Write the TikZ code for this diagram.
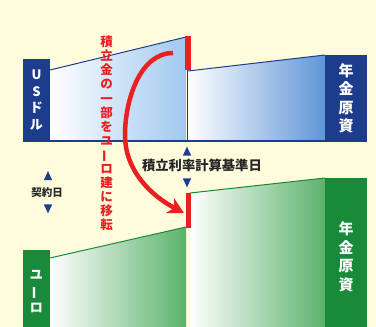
\documentclass[tikz,border=0pt]{standalone}
\usepackage{fontspec}
\setmainfont{Noto Sans CJK JP}
\usetikzlibrary{shapes}
\usetikzlibrary{arrows.meta}
\definecolor{bgcream}{RGB}{255,252,222}
\definecolor{usnavy}{RGB}{30,60,140}
\definecolor{uslight}{RGB}{160,200,238}
\definecolor{usmid}{RGB}{95,150,215}
\definecolor{eudark}{RGB}{24,138,58}
\definecolor{eumid}{RGB}{92,178,108}
\definecolor{redarr}{RGB}{232,32,32}
\tikzset{
	box_base/.style = {
		align=center,
		inner sep=0pt,
		text centered,
		white,
		font=\fontsize{13}{16.5}\selectfont\bfseries
	},
	box_us/.style = {
		box_base,
		rectangle,
		fill=usnavy
	},
	box_eu/.style = {
		box_base,
		rectangle,
		fill=eudark
	},
	box_total/.style = {
		font=\fontsize{15}{18.5}\selectfont\bfseries
	},
	day_label/.style = {
		inner sep=0pt,
		text=black!85
	},
	tri_up/.style = {
		isosceles triangle,
		shape border rotate=90,
		isosceles triangle apex angle=50,
		fill=usnavy,
		inner sep=0pt,
		minimum height=9pt
	},
	tri_down/.style = {
		tri_up,
		shape border rotate=270
	},
	edge_us/.style = {
		draw=usnavy,
		line width=1pt
	},
	edge_eu/.style = {
		draw=eudark,
		line width=1pt
	},
	vlabel/.style = {
		align=center,
		inner sep=0pt,
		text=redarr,
		font=\fontsize{12.5}{14.1}\selectfont\bfseries
	},
	arc_arrow/.style = {
		draw=redarr,
		line width=4.5pt,
		-{Stealth[length=16pt,width=17pt]}
	}
}
\newcommand{\vbar}{\rotatebox[origin=c]{90}{ー}}
\begin{document}
\begin{tikzpicture}[x=1pt, y=-1pt]
\clip (0,0) rectangle (376,327);
\fill[bgcream] (0,0) rectangle (376,327);
% US dollar
\shade[left color=white, right color=uslight] (50,70) -- (186,37) -- (186,141) -- (50,141) -- cycle;
\shade[left color=white, right color=usmid] (188,71) -- (325,55) -- (325,141) -- (188,141) -- cycle;
\draw[edge_us] (50,70) -- (186,37);
\draw[edge_us] (188,71) -- (325,55);
\draw[edge_us] (187,70) -- (187,141);
\draw[edge_us, line width=1.5pt] (23,141) -- (367,141);
\fill[redarr] (185,36) rectangle (191,70);
\node[box_us, minimum width=27pt, minimum height=82pt] (us_box) at (36.5,100) {U\\S\\ド\\ル};
\node[box_us, box_total, minimum width=42pt, minimum height=87pt] (us_total) at (346,98.5) {年\\金\\原\\資};
% euro
\shade[left color=white, right color=eumid] (50,258) -- (186,227) -- (186,330) -- (50,330) -- cycle;
\shade[left color=white, right color=eumid] (190,193) -- (325,178) -- (325,330) -- (190,330) -- cycle;
\draw[edge_eu] (50,258) -- (186,227);
\draw[edge_eu] (190,193) -- (325,178);
\fill[redarr] (185.5,193) rectangle (191,228);
\node[box_eu, minimum width=27pt, minimum height=83pt] (eu_box) at (36.5,291.5) {ユ\\\vbar\\ロ};
\node[box_eu, box_total, minimum width=42pt, minimum height=158pt] (eu_total) at (346,257) {年\\金\\原\\資};
% dates
\node[tri_up] (rate_up) at (187,153) {};
\node[day_label, font=\fontsize{13.3}{15}\selectfont\bfseries] (rate_day) at (202,165) {積立利率計算基準日};
\node[tri_down] (rate_dn) at (187,181) {};
\node[tri_up] (start_up) at (48,177.5) {};
\node[day_label, font=\fontsize{10.5}{12}\selectfont\bfseries] (start_day) at (47,193) {契約日};
\node[tri_down] (start_dn) at (48,207) {};
% transfer
\node[vlabel] (move_txt) at (106.5,133.5) {積\\立\\金\\の\\一\\部\\を\\ユ\\\vbar\\ロ\\建\\に\\移\\転};
\coordinate (arc_start) at (173,53);
\coordinate (arc_mid) at (125,135);
\coordinate (arc_end) at (184,213);
\draw[arc_arrow] (arc_start) .. controls (140,53) and (125,100) .. (arc_mid)
	.. controls (125,170) and (150,195) .. (arc_end);
\end{tikzpicture}
\end{document}
